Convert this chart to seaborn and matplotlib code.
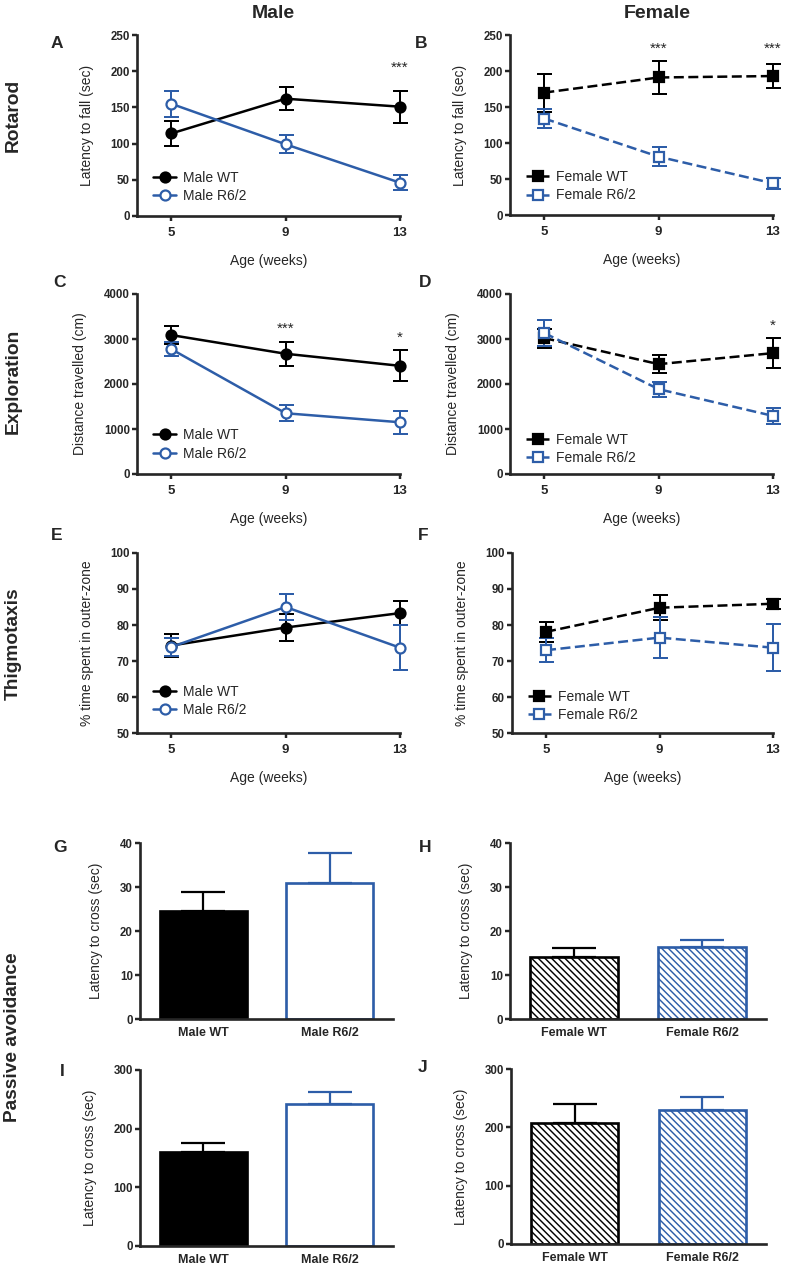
import numpy as np
import pandas as pd
import seaborn as sns
import matplotlib.pyplot as plt

# figure is 786 x 1268 px; dpi 80 so the bar hatching gets the right spacing
W, H, DPI = 786, 1268, 80
BLUE = '#2D5DA8'

weeks = [5, 9, 13]

# Rotarod - latency to fall (sec), mean / SEM
rot_male_wt = [114, 162, 151]
rot_male_wt_sem = [17, 16, 22]
rot_male_r62 = [155, 99, 46]
rot_male_r62_sem = [18, 12.5, 10]
rot_female_wt = [170, 191, 193]
rot_female_wt_sem = [26.5, 23, 17]
rot_female_r62 = [134, 81, 44]
rot_female_r62_sem = [13.5, 13, 7.5]

# Exploration - distance travelled (cm)
exp_male_wt = [3087, 2672, 2404]
exp_male_wt_sem = [200, 267, 345]
exp_male_r62 = [2775, 1350, 1150]
exp_male_r62_sem = [150, 178, 250]
exp_female_wt = [3020, 2441, 2686]
exp_female_wt_sem = [210, 205, 340]
exp_female_r62 = [3132, 1885, 1291]
exp_female_r62_sem = [290, 170, 175]

# Thigmotaxis - % time spent in outer-zone
thg_male_wt = [74.3, 79.3, 83.3]
thg_male_wt_sem = [3.3, 3.7, 3.4]
thg_male_r62 = [73.9, 85.0, 73.7]
thg_male_r62_sem = [2.6, 3.6, 6.2]
thg_female_wt = [78.1, 84.8, 85.9]
thg_female_wt_sem = [2.7, 3.5, 1.4]
thg_female_r62 = [73.0, 76.5, 73.7]
thg_female_r62_sem = [3.4, 5.6, 6.5]

# Passive avoidance - latency to cross (sec)
male_groups = ['Male WT', 'Male R6/2']
female_groups = ['Female WT', 'Female R6/2']
pa_g = [24.5, 30.8]
pa_g_sem = [4.4, 6.9]
pa_h = [14.1, 16.3]
pa_h_sem = [2.0, 1.7]
pa_i = [161, 242]
pa_i_sem = [15, 21]
pa_j = [207, 230]
pa_j_sem = [33, 22]

# significance marks (week, text, y)
stars_a = [(13, '***', 213)]
stars_b = [(9, '***', 239), (13, '***', 239)]
stars_c = [(9, '***', 3362), (13, '*', 3162)]
stars_d = [(13, '*', 3422)]

sns.set_style('ticks')
plt.rcParams['font.family'] = ['Liberation Sans', 'DejaVu Sans']
plt.rcParams['hatch.linewidth'] = 1.3

fig = plt.figure(figsize=(W / DPI, H / DPI), dpi=DPI)


def add_ax(l, r, t, b):
    return fig.add_axes([l / W, 1 - b / H, (r - l) / W, (b - t) / H])


def ftext(x, y, s, **kw):
    fig.text(x / W, 1 - y / H, s, ha='center', va='center', **kw)


def style(ax, yticks):
    sns.despine(ax=ax)
    for s in ['left', 'bottom']:
        ax.spines[s].set_linewidth(2.4)
    ax.set_yticks(yticks)
    ax.set_yticklabels([str(v) for v in yticks], fontweight='bold', fontsize=10.4)
    ax.tick_params(axis='y', width=2.2, length=4.5, pad=2)


def line_panel(ax, wt, wt_sem, tg, tg_sem, names, female, ylim, yticks, ylabel, stars, leg_y):
    mk = 's' if female else 'o'
    ls = (0, (4, 1.8)) if female else '-'
    series = [(wt, wt_sem, 'black', 'black', names[0]),
              (tg, tg_sem, BLUE, 'white', names[1])]
    for vals, err, col, face, name in series:
        eb = ax.errorbar(weeks, vals, yerr=err, fmt='none', ecolor=col,
                         elinewidth=1.8, capsize=6.75, capthick=1.8, zorder=2)
        for art in eb.get_children():
            art.set_clip_on(False)
        sns.lineplot(x=weeks, y=vals, ax=ax, errorbar=None, color=col,
                     linewidth=2.25, linestyle=ls, marker=mk, markersize=9,
                     markerfacecolor=face, markeredgecolor=col, markeredgewidth=2,
                     label=name, clip_on=False, zorder=3)
    ax.set_xlim(3.8, 13)
    ax.set_ylim(*ylim)
    style(ax, yticks)
    ax.set_xticks(weeks)
    ax.set_xticklabels([str(w) for w in weeks], fontweight='bold', fontsize=11.9)
    ax.tick_params(axis='x', width=2.2, length=4.5, pad=5)
    ax.set_xlabel('Age (weeks)', fontsize=12.5, labelpad=14)
    ax.set_ylabel(ylabel, fontsize=12.5, labelpad=15)
    ax.legend(loc='lower left', bbox_to_anchor=(0.06, leg_y), frameon=False,
              fontsize=12.5, handlelength=1.7, handletextpad=0.45,
              labelspacing=0.3, borderpad=0, borderaxespad=0)
    for x, s, y in stars:
        ax.annotate(s, (x, y), xytext=(0, -9), textcoords='offset points',
                    ha='center', va='baseline', fontsize=13.75)


def bar_panel(ax, names, vals, sems, hatched, ylim, yticks):
    df = pd.DataFrame({'group': names, 'value': vals})
    sns.barplot(data=df, x='group', y='value', hue='group', ax=ax, width=0.685,
                errorbar=None, legend=False, palette=['white', 'white'])
    cols = ['black', BLUE]
    for i, (patch, col) in enumerate(zip(ax.patches, cols)):
        if hatched:
            patch.set_facecolor('white')
            patch.set_hatch('\\\\\\\\')
        else:
            patch.set_facecolor(col if i == 0 else 'white')
        patch.set_edgecolor(col)
        patch.set_linewidth(2.4)
        ax.errorbar(i, vals[i], yerr=[[0], [sems[i]]], fmt='none', ecolor=col,
                    elinewidth=2.0, capsize=20, capthick=2.0, zorder=3)
    ax.set_xlim(-0.5, 1.5)
    ax.set_ylim(*ylim)
    style(ax, yticks)
    ax.set_xticks([0, 1])
    ax.set_xticklabels(names, fontweight='bold', fontsize=11.25)
    ax.tick_params(axis='x', length=0, pad=7)
    ax.set_xlabel('')
    ax.set_ylabel('Latency to cross (sec)', fontsize=12.5, labelpad=15)


ax_a = add_ax(137, 400, 35, 216)
ax_b = add_ax(510, 773, 35, 215)
ax_c = add_ax(137, 400, 294, 474)
ax_d = add_ax(510, 773, 294, 474)
ax_e = add_ax(137, 400, 553, 733)
ax_f = add_ax(512, 773, 553, 733)
ax_g = add_ax(140, 393, 843, 1019)
ax_h = add_ax(510, 766, 843, 1019)
ax_i = add_ax(140, 393, 1070, 1246)
ax_j = add_ax(511, 766, 1069, 1244)

male_names = ['Male WT', 'Male R6/2']
female_names = ['Female WT', 'Female R6/2']

line_panel(ax_a, rot_male_wt, rot_male_wt_sem, rot_male_r62, rot_male_r62_sem,
           male_names, False, (0, 250), [0, 50, 100, 150, 200, 250],
           'Latency to fall (sec)', stars_a, 0.07)
line_panel(ax_b, rot_female_wt, rot_female_wt_sem, rot_female_r62, rot_female_r62_sem,
           female_names, True, (0, 250), [0, 50, 100, 150, 200, 250],
           'Latency to fall (sec)', stars_b, 0.07)
line_panel(ax_c, exp_male_wt, exp_male_wt_sem, exp_male_r62, exp_male_r62_sem,
           male_names, False, (0, 4000), [0, 1000, 2000, 3000, 4000],
           'Distance travelled (cm)', stars_c, 0.075)
line_panel(ax_d, exp_female_wt, exp_female_wt_sem, exp_female_r62, exp_female_r62_sem,
           female_names, True, (0, 4000), [0, 1000, 2000, 3000, 4000],
           'Distance travelled (cm)', stars_d, 0.05)
line_panel(ax_e, thg_male_wt, thg_male_wt_sem, thg_male_r62, thg_male_r62_sem,
           male_names, False, (50, 100), [50, 60, 70, 80, 90, 100],
           '% time spent in outer-zone', [], 0.09)
line_panel(ax_f, thg_female_wt, thg_female_wt_sem, thg_female_r62, thg_female_r62_sem,
           female_names, True, (50, 100), [50, 60, 70, 80, 90, 100],
           '% time spent in outer-zone', [], 0.06)

bar_panel(ax_g, male_groups, pa_g, pa_g_sem, False, (0, 40), [0, 10, 20, 30, 40])
bar_panel(ax_h, female_groups, pa_h, pa_h_sem, True, (0, 40), [0, 10, 20, 30, 40])
bar_panel(ax_i, male_groups, pa_i, pa_i_sem, False, (0, 300), [0, 100, 200, 300])
bar_panel(ax_j, female_groups, pa_j, pa_j_sem, True, (0, 300), [0, 100, 200, 300])

# column titles, row titles, panel letters
ftext(273, 13, 'Male', fontsize=17.5, fontweight='bold')
ftext(657, 13, 'Female', fontsize=17.5, fontweight='bold')
for y, s in [(115, 'Rotarod'), (381, 'Exploration'), (644, 'Thigmotaxis'),
             (1037, 'Passive avoidance')]:
    ftext(13, y, s, fontsize=17.25, fontweight='bold', rotation=90)
for x, y, s in [(57, 43, 'A'), (421, 43, 'B'), (59, 283, 'C'), (425, 283, 'D'),
                (57, 535, 'E'), (423, 535, 'F'), (60, 847, 'G'), (425, 847, 'H'),
                (62, 1072, 'I'), (423, 1067, 'J')]:
    ftext(x, y, s, fontsize=15.6, fontweight='bold')

fig.savefig('out.png', dpi=DPI)
plt.close(fig)
